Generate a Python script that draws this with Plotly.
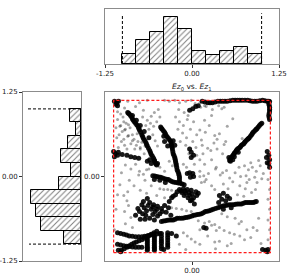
import plotly.graph_objects as go

# ---------------- data ----------------
bin_centers = [-0.9, -0.7, -0.5, -0.3, -0.1, 0.1, 0.3, 0.5, 0.7, 0.9]
bin_width = 0.2
top_counts = [30, 72, 98, 142, 107, 40, 28, 40, 50, 31]          # Ez0 histogram
left_counts = [51, 119, 133, 149, 67, 29, 61, 39, 16, 32]         # Ez1 histogram (bottom -> top)
bound_lo, bound_hi = -1.0, 1.0
top_dash_heights = [148, 153]
left_dash_lengths = [155, 163]
tick_vals_hist = [-1.25, 0.0, 1.25]
tick_text_hist = ["-1.25", "0.00", "1.25"]

# dense strokes of the scatter
dense_x = [-0.99, -0.96, -0.94, -0.97, -0.95,
           -0.82, -0.80, -0.77, -0.75, -0.72, -0.69, -0.67, -0.64, -0.62, -0.59, -0.57, -0.54, -0.52, -0.49, -0.47, -0.45,
           -0.81, -0.785, -0.76, -0.735, -0.705, -0.68, -0.655, -0.63, -0.605, -0.58, -0.555, -0.53, -0.505, -0.48, -0.46,
           -0.76, -0.71, -0.66, -0.61, -0.55,
           -0.57, -0.52, -0.44, -0.48, -0.54,
           -0.40, -0.38, -0.35, -0.33, -0.30, -0.27, -0.26, -0.25, -0.24, -0.22, -0.21, -0.20, -0.19, -0.17, -0.16, -0.16,
           -0.39, -0.365, -0.34, -0.315, -0.285, -0.265, -0.255, -0.245, -0.23, -0.215, -0.205, -0.195, -0.18, -0.165, -0.16,
           -0.36, -0.35, -0.31, -0.24, -0.22,
           -1.0, -0.98, -0.95, -0.99, -0.94,
           -0.89, -0.83, -0.78, -0.73, -0.68,
           0.13, 0.20, 0.26, 0.33, 0.39, 0.45, 0.52, 0.58, 0.64, 0.71, 0.77, 0.83, 0.90, 0.96,
           0.165, 0.23, 0.295, 0.36, 0.42, 0.485, 0.55, 0.61, 0.675, 0.74, 0.80, 0.865, 0.93, 0.98,
           -0.03, 0.01, 0.05, 0.08,
           0.98, 0.99, 0.99, 0.98, 0.99, 0.99, 0.985, 0.99, 0.985, 0.985,
           0.48, 0.50, 0.53, 0.55, 0.58, 0.61, 0.63, 0.66, 0.68, 0.71, 0.73, 0.76, 0.78, 0.81, 0.83, 0.86, 0.89,
           0.49, 0.515, 0.54, 0.565, 0.595, 0.62, 0.645, 0.67, 0.695, 0.72, 0.745, 0.77, 0.795, 0.82, 0.845, 0.875,
           0.47, 0.49, 0.52, 0.54, 0.57, 0.59,
           0.96, 0.98, 0.99, 0.98, 0.99, 0.95, 0.96,
           -0.03, -0.01, 0.02, -0.01,
           -0.06, -0.03, 0.01, 0.02, -0.02,
           -0.50, -0.45, -0.40, -0.35, -0.30, -0.25, -0.20, -0.15, -0.10, -0.48, -0.41, -0.34,
           -0.475, -0.425, -0.375, -0.325, -0.275, -0.225, -0.175, -0.125,
           -0.16, -0.11, -0.06, -0.01, 0.05, 0.08, -0.08, -0.03, 0.02, -0.02, 0.03, -0.13, -0.21, -0.26, -0.29,
           -0.19, -0.14, -0.09, -0.04, 0.0, -0.05, 0.0, 0.06, -0.24, -0.10,
           -0.39, -0.34, -0.29, -0.24, -0.19, -0.13, -0.08, -0.03, 0.02, 0.07, 0.12, 0.17, 0.22, 0.27, 0.33, 0.38, 0.43,
           0.48, 0.53, 0.58, 0.63, 0.68, 0.73, 0.78, 0.82,
           -0.365, -0.315, -0.265, -0.215, -0.16, -0.105, -0.055, 0.0, 0.045, 0.095, 0.145, 0.195, 0.245, 0.30, 0.355,
           0.405, 0.455, 0.505, 0.555, 0.605, 0.655, 0.705, 0.755, 0.80,
           0.35, 0.40, 0.45, 0.38, 0.43, 0.48, 0.34, 0.50, 0.40,
           -0.54, -0.49, -0.44, -0.39, -0.52, -0.47, -0.41, -0.61, -0.67, -0.72, -0.59, -0.54, -0.48, -0.64, -0.57, -0.62, -0.69,
           -0.50, -0.45, -0.56, -0.58, -0.63, -0.50, -0.44, -0.38, -0.60, -0.66,
           -0.35, -0.30, -0.33, -0.27,
           -0.95, -0.87, -0.80, -0.72, -0.64, -0.57, -0.49, -0.41,
           -0.91, -0.835, -0.76, -0.68, -0.605, -0.53, -0.45,
           -0.90, -0.83, -0.77, -0.71, -0.64, -0.58, -0.52, -0.45,
           -0.865, -0.80, -0.74, -0.675, -0.61, -0.55, -0.485,
           -0.95, -0.87, -0.80, -0.72, -0.64,
           -0.91, -0.835, -0.76, -0.68,
           -0.57, -0.57, -0.57, -0.57, -0.57, -0.57, -0.57, -0.57, -0.57,
           -0.48, -0.48, -0.48, -0.48, -0.48, -0.48, -0.48, -0.48, -0.48,
           -0.39, -0.39, -0.39, -0.39, -0.39, -0.39, -0.39,
           -0.31, -0.31, -0.31, -0.31, -0.31, -0.31, -0.31,
           -0.94, -0.91, -0.26, -0.20, -0.36,
           0.15, 0.18,
           0.90, 0.94, 0.97, 0.96]
dense_y = [0.99, 0.97, 0.99, 0.95, 0.93,
           0.84, 0.82, 0.78, 0.74, 0.70, 0.66, 0.61, 0.55, 0.50, 0.45, 0.40, 0.34, 0.29, 0.24, 0.18, 0.15,
           0.83, 0.80, 0.76, 0.72, 0.68, 0.635, 0.58, 0.525, 0.475, 0.425, 0.37, 0.315, 0.265, 0.21, 0.165,
           0.80, 0.74, 0.67, 0.59, 0.51,
           0.20, 0.17, 0.17, 0.21, 0.22,
           0.65, 0.62, 0.58, 0.54, 0.50, 0.46, 0.41, 0.36, 0.30, 0.25, 0.20, 0.15, 0.09, 0.04, -0.01, -0.07,
           0.635, 0.60, 0.56, 0.52, 0.48, 0.435, 0.385, 0.33, 0.275, 0.225, 0.175, 0.12, 0.065, 0.015, -0.04,
           0.53, 0.46, 0.40, 0.47, 0.41,
           0.33, 0.30, 0.28, 0.26, 0.32,
           0.29, 0.28, 0.26, 0.25, 0.24,
           0.99, 0.97, 0.97, 0.99, 0.99, 0.99, 1.0, 1.0, 1.0, 1.0, 0.99, 0.99, 1.0, 0.99,
           0.98, 0.97, 0.98, 0.99, 0.99, 0.995, 1.0, 1.0, 1.0, 0.995, 0.99, 0.995, 0.995, 0.99,
           0.87, 0.89, 0.92, 0.93,
           0.96, 0.91, 0.86, 0.80, 0.75, 0.985, 0.935, 0.885, 0.83, 0.775,
           0.21, 0.25, 0.29, 0.32, 0.36, 0.38, 0.41, 0.43, 0.46, 0.49, 0.51, 0.55, 0.58, 0.61, 0.63, 0.67, 0.70,
           0.23, 0.27, 0.305, 0.34, 0.37, 0.395, 0.42, 0.445, 0.475, 0.50, 0.53, 0.565, 0.595, 0.62, 0.65, 0.685,
           0.25, 0.20, 0.22, 0.26, 0.34, 0.32,
           0.33, 0.28, 0.22, 0.17, 0.12, 0.25, 0.18,
           0.36, 0.32, 0.28, 0.25,
           0.04, 0.05, 0.04, 0.0, -0.01,
           0.01, 0.0, -0.01, -0.03, -0.04, -0.07, -0.08, -0.09, -0.11, -0.04, -0.05, -0.08,
           0.005, -0.005, -0.02, -0.035, -0.055, -0.075, -0.085, -0.10,
           -0.17, -0.16, -0.17, -0.18, -0.20, -0.22, -0.22, -0.25, -0.28, -0.32, -0.36, -0.21, -0.24, -0.28, -0.33,
           -0.20, -0.19, -0.19, -0.21, -0.23, -0.28, -0.31, -0.25, -0.26, -0.25,
           -0.59, -0.58, -0.57, -0.57, -0.55, -0.55, -0.54, -0.53, -0.51, -0.50, -0.49, -0.46, -0.45, -0.43, -0.41, -0.39, -0.38,
           -0.37, -0.37, -0.36, -0.36, -0.34, -0.34, -0.34, -0.33,
           -0.585, -0.575, -0.57, -0.56, -0.55, -0.545, -0.535, -0.52, -0.505, -0.495, -0.475, -0.455, -0.44, -0.42, -0.40,
           -0.385, -0.375, -0.37, -0.365, -0.36, -0.35, -0.34, -0.34, -0.335,
           -0.25, -0.22, -0.26, -0.30, -0.32, -0.29, -0.34, -0.41, -0.43,
           -0.34, -0.37, -0.39, -0.42, -0.43, -0.46, -0.49, -0.41, -0.46, -0.51, -0.51, -0.55, -0.57, -0.37, -0.29, -0.33, -0.42,
           -0.40, -0.43, -0.38, -0.45, -0.49, -0.50, -0.52, -0.46, -0.56, -0.56,
           -0.38, -0.41, -0.47, -0.51,
           -0.74, -0.76, -0.78, -0.79, -0.79, -0.78, -0.76, -0.75,
           -0.75, -0.77, -0.785, -0.79, -0.785, -0.77, -0.755,
           -0.97, -0.93, -0.89, -0.86, -0.83, -0.79, -0.76, -0.72,
           -0.95, -0.91, -0.875, -0.845, -0.81, -0.775, -0.74,
           -0.89, -0.91, -0.92, -0.93, -0.93,
           -0.90, -0.915, -0.925, -0.93,
           -0.78, -0.805, -0.83, -0.855, -0.88, -0.905, -0.93, -0.95, -0.97,
           -0.78, -0.805, -0.83, -0.855, -0.88, -0.905, -0.93, -0.95, -0.97,
           -0.75, -0.785, -0.82, -0.85, -0.88, -0.915, -0.95,
           -0.74, -0.77, -0.80, -0.835, -0.87, -0.90, -0.93,
           -0.97, -0.99, -0.75, -0.78, -0.96,
           -0.67, -0.68,
           -0.96, -0.97, -0.96, -0.99]

# sparse scattered samples
sparse_x = [-0.92, -0.82, -0.67, -0.57, -0.35, -0.29, -0.22, -0.16, -0.08, -0.01, 0.04, 0.10, 0.16, 0.22,
            -0.95, -0.92, -0.89, -0.96, -0.90, -0.85, -0.82, -0.86, -0.78, -0.73, -0.94, -0.81, -0.91, -0.87, -0.69, -0.66, -0.76, -0.97, -0.83,
            -0.63, -0.57, -0.52, -0.45, -0.41, -0.59, -0.49,
            -0.21, -0.16, -0.11, -0.06, -0.18, -0.12, -0.07, -0.02, -0.15, -0.08, 0.01, -0.17, -0.10,
            -0.91, -0.86, -0.81, -0.76, -0.71, -0.66, -0.61,
            0.38, 0.16, 0.52, 0.29, 0.64, 0.13, 0.20, 0.06, 0.39, 0.31, 0.39, 0.25, 0.45, 0.10,
            0.03, 0.11, 0.18, 0.26, 0.34, 0.41,
            0.67, 0.72, 0.77, 0.82, 0.87, 0.91, 0.69, 0.80, 0.89, 0.75, 0.85,
            0.97, 0.99, 0.97, 0.99, 0.97, 0.99, 0.97,
            -0.67, -0.62, -0.58, -0.29, -0.25, -0.11, -0.07, 0.10, 0.15, 0.18, 0.12, 0.21,
            -0.41, -0.36, -0.31, -0.26,
            0.10, 0.16, 0.25, 0.29, 0.52, 0.61, 0.68, 0.76, 0.81, 0.58, 0.66, 0.73, 0.83,
            0.22, 0.29, 0.35, 0.41, 0.48, 0.54, 0.61,
            0.78, 0.83,
            0.38, 0.45, 0.55, 0.63,
            0.08, 0.16, 0.25, 0.31, -0.11, -0.06, -0.01, 0.04,
            -0.26, -0.20, -0.13, -0.07, -0.01,
            -0.87, -0.83, -0.81, -0.86, -0.78, -0.85, -0.76, -0.82,
            -0.16, -0.08, 0.10, 0.29, 0.45, 0.67, -0.92, -0.95, -0.97, -0.99,
            0.10, 0.16, 0.25, 0.32, 0.41, 0.03, -0.41, -0.35, 0.32, 0.43,
            -0.88, -0.84, -0.79, -0.93, -0.87, -0.74, -0.70, -0.64, -0.60, -0.55, -0.50, -0.47, -0.44, -0.53, -0.48, -0.43, -0.62, -0.72, -0.86, -0.95,
            -0.05, 0.02, 0.06, 0.12, 0.17, 0.22, 0.28, 0.35, 0.05, -0.04, 0.14, 0.24,
            -0.85, -0.78, -0.72, -0.68, -0.60, -0.55, -0.80, -0.74, -0.66, -0.58, -0.45, -0.35, -0.90, -0.52,
            0.30, 0.36, 0.44, 0.48, 0.55, 0.60, 0.40, 0.46, 0.62, 0.70,
            0.10, 0.20, 0.35, 0.50, 0.70, 0.85, 0.60, 0.75, 0.88, 0.30]
sparse_y = [1.0, 0.99, 0.97, 1.0, 1.0, 0.99, 1.0, 0.97, 0.99, 1.0, 0.96, 0.97, 0.93, 0.96,
            0.75, 0.66, 0.59, 0.51, 0.46, 0.62, 0.53, 0.41, 0.43, 0.36, 0.38, 0.68, 0.82, 0.72, 0.46, 0.38, 0.55, 0.64, 0.36,
            0.78, 0.74, 0.79, 0.72, 0.78, 0.67, 0.66,
            0.78, 0.72, 0.67, 0.75, 0.62, 0.57, 0.51, 0.62, 0.46, 0.41, 0.46, 0.88, 0.84,
            0.67, 0.61, 0.54, 0.47, 0.41, 0.36, 0.30,
            0.89, 0.74, 0.76, 0.54, 0.50, 0.41, 0.37, 0.28, 0.30, 0.12, 0.05, 0.80, 0.66, 0.61,
            0.93, 0.91, 0.92, 0.88, 0.93, 0.91,
            0.14, 0.09, 0.12, 0.07, 0.14, 0.04, 0.01, -0.01, -0.03, 0.18, 0.21,
            -0.04, -0.17, -0.30, -0.43, -0.57, -0.70, -0.83,
            0.07, 0.03, 0.09, 0.20, 0.14, 0.16, 0.12, 0.07, 0.01, -0.04, -0.08, 0.04,
            -0.16, -0.17, -0.17, -0.18,
            0.0, -0.07, -0.12, -0.17, -0.07, -0.12, -0.16, -0.21, -0.17, -0.24, -0.26, -0.04, -0.08,
            -0.59, -0.63, -0.67, -0.71, -0.74, -0.76, -0.78,
            -0.67, -0.71,
            -0.49, -0.53, -0.55, -0.59,
            -0.58, -0.61, -0.64, -0.71, -0.74, -0.78, -0.82, -0.86,
            -0.41, -0.42, -0.43, -0.45, -0.46,
            -0.25, -0.32, -0.38, -0.46, -0.54, -0.62, -0.67, -0.20,
            -0.89, -0.96, -0.89, -0.86, -0.91, -0.83, -0.11, -0.24, -0.43, -0.70,
            0.22, 0.16, 0.22, 0.36, 0.42, 0.16, 0.12, 0.07, 0.49, 0.46,
            0.78, 0.70, 0.64, 0.55, 0.49, 0.49, 0.56, 0.45, 0.40, 0.62, 0.55, 0.47, 0.40, 0.70, 0.84, 0.88, 0.87, 0.92, 0.90, 0.85,
            0.80, 0.72, 0.55, 0.48, 0.58, 0.67, 0.44, 0.56, 0.38, 0.30, 0.30, 0.34,
            0.15, 0.10, 0.16, 0.02, -0.05, 0.10, -0.05, -0.12, -0.18, -0.22, -0.25, -0.28, 0.05, -0.12,
            0.10, 0.02, 0.08, -0.02, 0.05, 0.12, -0.10, -0.16, 0.00, -0.08,
            -0.70, -0.78, -0.85, -0.88, -0.70, -0.55, -0.62, -0.80, -0.88, -0.95]

# ---------------- figure ----------------
W, H = 287, 279
FONT = "DejaVu Sans"
BOX = "#8c8c8c"
hatch = dict(shape="/", fgcolor="black", bgcolor="white", size=4, solidity=0.25)

fig = go.Figure()

# top histogram (Ez0)
fig.add_trace(go.Bar(x=bin_centers, y=top_counts, width=bin_width,
                     marker=dict(color="white", line=dict(color="black", width=1), pattern=hatch),
                     xaxis="x", yaxis="y", showlegend=False))
for xv, h in zip([bound_lo, bound_hi], top_dash_heights):
    fig.add_trace(go.Scatter(x=[xv, xv], y=[0, h], mode="lines",
                             line=dict(color="black", width=1, dash="3px,2px"),
                             xaxis="x", yaxis="y", showlegend=False))

# left histogram (Ez1), bars grow to the left
fig.add_trace(go.Bar(y=bin_centers, x=left_counts, width=bin_width, orientation="h",
                     marker=dict(color="white", line=dict(color="black", width=1), pattern=hatch),
                     xaxis="x2", yaxis="y2", showlegend=False))
for yv, L in zip([bound_lo, bound_hi], left_dash_lengths):
    fig.add_trace(go.Scatter(x=[0, L], y=[yv, yv], mode="lines",
                             line=dict(color="black", width=1, dash="3px,2px"),
                             xaxis="x2", yaxis="y2", showlegend=False))

# scatter
fig.add_trace(go.Scatter(x=sparse_x, y=sparse_y, mode="markers",
                         marker=dict(color="black", size=3, opacity=0.35, line=dict(width=0)),
                         xaxis="x3", yaxis="y3", showlegend=False))
fig.add_trace(go.Scatter(x=dense_x, y=dense_y, mode="markers",
                         marker=dict(color="black", size=5, opacity=0.9, line=dict(width=0)),
                         xaxis="x3", yaxis="y3", showlegend=False))
fig.add_shape(type="rect", xref="x3", yref="y3", x0=bound_lo, x1=bound_hi, y0=bound_lo, y1=bound_hi,
              line=dict(color="#ff1a1a", width=1.2, dash="3px,2px"), fillcolor="rgba(0,0,0,0)", layer="above")

axis_common = dict(showline=True, linecolor=BOX, linewidth=1, mirror=True, showgrid=False, zeroline=False,
                   automargin=False, ticks="outside", ticklen=3, tickcolor="#333",
                   tickfont=dict(size=7, family=FONT, color="#222"))
plain_axis = dict(showline=True, linecolor=BOX, linewidth=1, mirror=True, showgrid=False, zeroline=False,
                  automargin=False, showticklabels=False, ticks="")

fig.update_layout(
    width=W, height=H, margin=dict(l=0, r=0, t=0, b=0, pad=0), autosize=False,
    paper_bgcolor="white", plot_bgcolor="white",
    font=dict(family=FONT, size=7, color="#222"),
    bargap=0,
    xaxis=dict(domain=[105/W, 279/W], anchor="y", range=[-1.25, 1.25],
               tickvals=tick_vals_hist, ticktext=tick_text_hist, **axis_common),
    yaxis=dict(domain=[(H-64)/H, (H-9)/H], anchor="x", range=[0, 166], **plain_axis),
    xaxis2=dict(domain=[23/W, 81/W], anchor="y2", range=[173, 0], **plain_axis),
    yaxis2=dict(domain=[(H-261)/H, (H-92)/H], anchor="x2", range=[-1.25, 1.25],
                tickvals=tick_vals_hist, ticktext=tick_text_hist, **axis_common),
    xaxis3=dict(domain=[105/W, 279/W], anchor="y3", range=[-1.11, 1.11],
                tickvals=[0.0], ticktext=["0.00"], **axis_common),
    yaxis3=dict(domain=[(H-261)/H, (H-92)/H], anchor="x3", range=[-1.11, 1.11],
                tickvals=[0.0], ticktext=["0.00"], **axis_common),
    annotations=[dict(text="<i>Ez</i><sub>0</sub> vs. <i>Ez</i><sub>1</sub>",
                      xref="paper", yref="paper", x=(105+279)/2/W, y=(H-87)/H,
                      xanchor="center", yanchor="middle", showarrow=False,
                      font=dict(size=7.5, family=FONT, color="#222"))],
)

fig.write_html("out.html", config={"displayModeBar": False},
               post_script="document.body.style.margin='0';document.body.style.padding='0';")
